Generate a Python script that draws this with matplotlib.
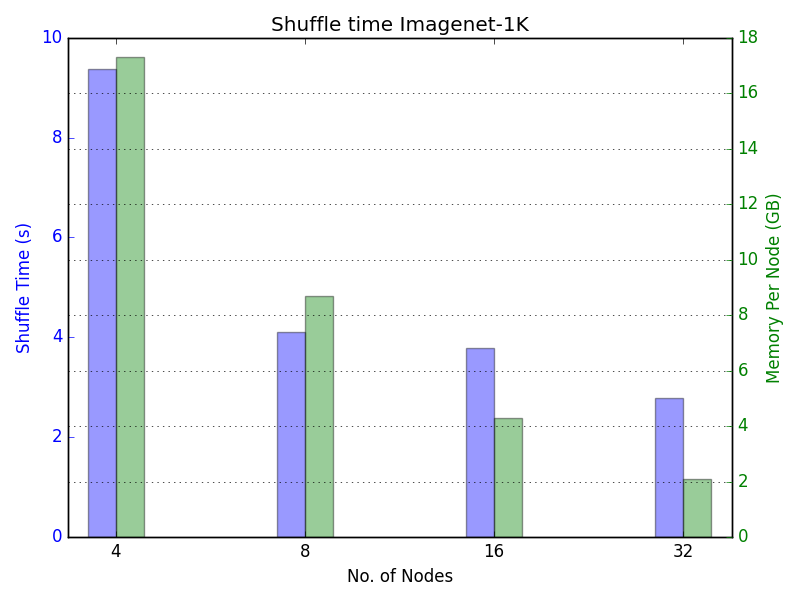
import matplotlib
matplotlib.use("Agg")
import matplotlib.pyplot as plt
import numpy as np

plt.style.use('classic')

nodes = ['4', '8', '16', '32']
shuffle_time = [9.37, 4.11, 3.79, 2.79]
memory_gb = [17.32, 8.69, 4.29, 2.09]

ind = np.arange(len(nodes))
width = 0.15

fig, ax1 = plt.subplots(figsize=(8, 6), dpi=100)
fig.subplots_adjust(left=0.085, right=0.915, top=0.937, bottom=0.105)
ax1.bar(ind - width, shuffle_time, width, color='b', alpha=0.4, align='edge')
ax1.set_ylim(0, 10)
ax1.set_ylabel('Shuffle Time (s)', color='b')
ax1.tick_params(axis='y', colors='b')
ax1.set_xlabel('No. of Nodes')
ax1.set_xticks(ind)
ax1.set_xticklabels(nodes)
ax1.set_xlim(-0.254, 3.26)
ax1.set_title('Shuffle time Imagenet-1K')

ax2 = ax1.twinx()
ax2.bar(ind, memory_gb, width, color='g', alpha=0.4, align='edge')
ax2.set_ylim(0, 18)
ax2.set_ylabel('Memory Per Node (GB)', color='g')
ax2.tick_params(axis='y', colors='g')
ax2.grid(True, axis='y')
ax2.set_xlim(-0.254, 3.26)

plt.savefig('out.png')
